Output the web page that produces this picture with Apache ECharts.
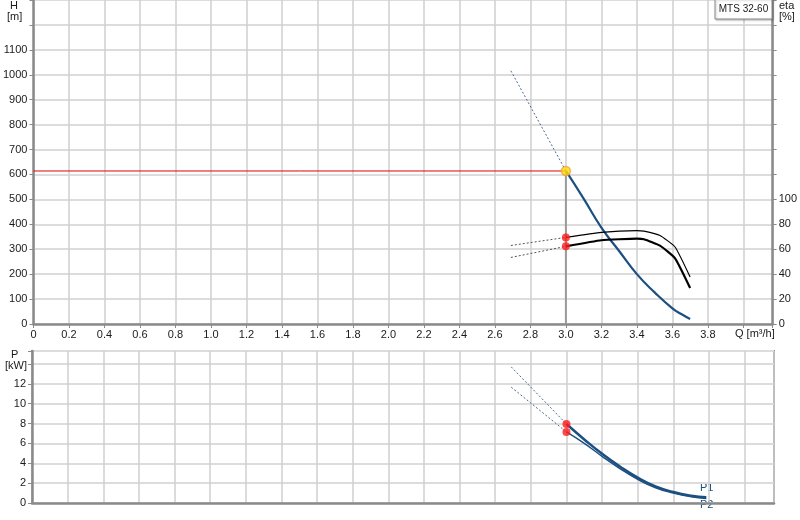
<!DOCTYPE html>
<html>
<head>
<meta charset="utf-8">
<script src="https://cdn.jsdelivr.net/npm/echarts@6/dist/echarts.min.js"></script>
<style>
  html, body { margin: 0; padding: 0; background: #fff; }
  #main { width: 800px; height: 520px; }
</style>
</head>
<body>
<div id="main"></div>
<script>
// 工作点
const dutyQ = 3.0;
const dutyH = 614;

// 扬程曲线 H(Q)
const qH = [3.0, 3.1, 3.2, 3.3, 3.4, 3.5, 3.6, 3.65, 3.7];
const headH = [614, 503, 387, 293, 200, 127, 63, 40, 20];
const headExtQ = [2.69, 3.0];
const headExtH = [1016, 614];

// 效率曲线 eta(Q)
const qEta = [3.0, 3.2, 3.4, 3.44, 3.53, 3.615, 3.7];
const eta1 = [69.5, 73.6, 75, 74.5, 71, 61.8, 37.7];
const eta2 = [62.3, 67.2, 68.5, 68, 62.9, 52.7, 28.9];
const etaExtQ = [2.69, 3.0];
const eta1Ext = [63, 69.5];
const eta2Ext = [53.4, 62.3];

// 功率曲线 P(Q)
const qP = [3.0, 3.1, 3.2, 3.3, 3.4, 3.5, 3.6, 3.7, 3.785];
const p1 = [7.95, 6.4, 4.95, 3.67, 2.55, 1.67, 1.1, 0.73, 0.57];
const p2 = [7.15, 6.0, 4.7, 3.47, 2.38, 1.53, 1.0, 0.63, 0.45];
const pExtQ = [2.69, 3.0];
const p1Ext = [13.7, 7.95];
const p2Ext = [11.66, 7.15];

const zip = (xs, ys) => xs.map((x, i) => [x, ys[i]]);

const chart = echarts.init(document.getElementById('main'));

const FONT = 'Liberation Sans';
const axisGray = '#8a8a8a';
const gridGray = '#dcdcdc';
const curveBlue = '#1c4f82';

const xFmt = function (v) {
    const r = Math.round(v * 10) / 10;
    if (Math.abs(v - r) > 1e-6 || r > 3.85) return '';
    return r === 0 ? '0' : r.toFixed(1);
};

const option = {
    animation: false,
    grid: [
        { left: 32, right: 26, top: 0, bottom: 196 },
        { left: 32, right: 26, top: 351, bottom: 17, show: true, borderColor: axisGray, borderWidth: 2 }
    ],
    xAxis: [
        {
            gridIndex: 0, type: 'value', min: 0, max: 4.165, interval: 0.2,
            axisLine: { lineStyle: { color: axisGray, width: 2.5 } },
            axisTick: { show: true, length: 4, lineStyle: { color: axisGray } },
            axisLabel: { formatter: xFmt, color: '#1a1a1a', fontFamily: FONT, fontSize: 11, margin: 5 },
            splitLine: { lineStyle: { color: '#cfcfcf', width: 1.5 } }
        },
        {
            gridIndex: 1, type: 'value', min: 0, max: 4.165, interval: 0.2,
            axisLine: { lineStyle: { color: axisGray, width: 2.5 } },
            axisTick: { show: false },
            axisLabel: { show: false },
            splitLine: { lineStyle: { color: '#cfcfcf', width: 1.5 } }
        }
    ],
    yAxis: [
        {
            gridIndex: 0, type: 'value', min: 0, max: 1300, interval: 100,
            axisLine: { show: true, lineStyle: { color: axisGray, width: 2.5 } },
            axisTick: { show: true, length: 4, lineStyle: { color: axisGray } },
            axisLabel: {
                formatter: v => (v <= 1100 ? String(v) : ''),
                color: '#1a1a1a', fontFamily: FONT, fontSize: 11, margin: 6
            },
            splitLine: { lineStyle: { color: gridGray, width: 2 } }
        },
        {
            gridIndex: 0, type: 'value', position: 'right', min: 0, max: 260, interval: 20,
            axisLine: { show: true, lineStyle: { color: axisGray, width: 2.5 } },
            axisTick: { show: true, length: 4, lineStyle: { color: axisGray } },
            axisLabel: {
                formatter: v => (v <= 100 ? String(v) : ''),
                color: '#1a1a1a', fontFamily: FONT, fontSize: 11, margin: 6
            },
            splitLine: { show: false }
        },
        {
            gridIndex: 1, type: 'value', min: 0, max: 15.3, interval: 2,
            axisLine: { show: true, lineStyle: { color: axisGray, width: 2.5 } },
            axisTick: { show: true, length: 4, lineStyle: { color: axisGray } },
            axisLabel: {
                formatter: v => (v <= 12 && v % 2 === 0 ? String(v) : ''),
                color: '#1a1a1a', fontFamily: FONT, fontSize: 11, margin: 6
            },
            splitLine: { lineStyle: { color: gridGray, width: 2 } }
        }
    ],
    graphic: [
        { type: 'text', left: 10, top: 0, style: { text: 'H', font: '11px ' + FONT, fill: '#1a1a1a' } },
        { type: 'text', left: 7, top: 11, style: { text: '[m]', font: '11px ' + FONT, fill: '#1a1a1a' } },
        { type: 'text', left: 779, top: 0, style: { text: 'eta', font: '11px ' + FONT, fill: '#1a1a1a' } },
        { type: 'text', left: 779, top: 11, style: { text: '[%]', font: '11px ' + FONT, fill: '#1a1a1a' } },
        { type: 'text', left: 11, top: 349, style: { text: 'P', font: '11px ' + FONT, fill: '#1a1a1a' } },
        { type: 'text', left: 5, top: 360, style: { text: '[kW]', font: '11px ' + FONT, fill: '#1a1a1a' } },
        { type: 'text', left: 735, top: 328, style: { text: 'Q [m³/h]', font: '11px ' + FONT, fill: '#1a1a1a' } },
        { type: 'text', left: 700, top: 482, style: { text: 'P1', font: '11px ' + FONT, fill: curveBlue } },
        { type: 'text', left: 700, top: 499, style: { text: 'P2', font: '11px ' + FONT, fill: curveBlue } },
        {
            type: 'rect', x: 715, y: -1, z: 100,
            shape: { x: 0, y: 0, width: 57, height: 20 },
            style: { fill: '#fff', stroke: '#8a8a8a', lineWidth: 1, shadowBlur: 2, shadowColor: 'rgba(0,0,0,0.25)', shadowOffsetX: 1, shadowOffsetY: 1 }
        },
        {
            type: 'text', x: 743.5, y: 9.5, z: 101,
            style: { text: 'MTS 32-60', font: '10px ' + FONT, fill: '#1a1a1a', align: 'center', verticalAlign: 'middle' }
        }
    ],
    series: [
        // 工作点参考线
        {
            type: 'line', xAxisIndex: 0, yAxisIndex: 0, symbol: 'none', silent: true,
            data: [[0, dutyH], [dutyQ, dutyH]],
            lineStyle: { color: '#e00000', width: 1 }, z: 3
        },
        {
            type: 'line', xAxisIndex: 0, yAxisIndex: 0, symbol: 'none', silent: true,
            data: [[dutyQ, 0], [dutyQ, dutyH]],
            lineStyle: { color: '#9a9a9a', width: 2 }, z: 3
        },
        // 扬程
        {
            type: 'line', xAxisIndex: 0, yAxisIndex: 0, symbol: 'none',
            data: zip(headExtQ, headExtH),
            lineStyle: { color: '#4a6a90', width: 1, type: [2, 2] }
        },
        {
            type: 'line', xAxisIndex: 0, yAxisIndex: 0, symbol: 'none', smooth: true,
            data: zip(qH, headH),
            lineStyle: { color: curveBlue, width: 2.2 }, z: 4
        },
        // 效率
        {
            type: 'line', xAxisIndex: 0, yAxisIndex: 1, symbol: 'none',
            data: zip(etaExtQ, eta1Ext),
            lineStyle: { color: '#555', width: 1, type: [2, 2] }
        },
        {
            type: 'line', xAxisIndex: 0, yAxisIndex: 1, symbol: 'none',
            data: zip(etaExtQ, eta2Ext),
            lineStyle: { color: '#555', width: 1, type: [2, 2] }
        },
        {
            type: 'line', xAxisIndex: 0, yAxisIndex: 1, symbol: 'none', smooth: 0.15,
            data: zip(qEta, eta1),
            lineStyle: { color: '#000', width: 1.2 }, z: 4
        },
        {
            type: 'line', xAxisIndex: 0, yAxisIndex: 1, symbol: 'none', smooth: 0.15,
            data: zip(qEta, eta2),
            lineStyle: { color: '#000', width: 2.2 }, z: 4
        },
        {
            type: 'scatter', xAxisIndex: 0, yAxisIndex: 1, symbolSize: 8,
            data: [[qEta[0], eta1[0]], [qEta[0], eta2[0]]],
            itemStyle: { color: '#ff1a1a' }, z: 6
        },
        {
            type: 'scatter', xAxisIndex: 0, yAxisIndex: 0, symbolSize: 9,
            data: [[dutyQ, dutyH]],
            itemStyle: { color: '#ffe400', borderColor: '#f5a040', borderWidth: 1.5 }, z: 6
        },
        // 功率
        {
            type: 'line', xAxisIndex: 1, yAxisIndex: 2, symbol: 'none',
            data: zip(pExtQ, p1Ext),
            lineStyle: { color: '#4a6a90', width: 1, type: [2, 2] }
        },
        {
            type: 'line', xAxisIndex: 1, yAxisIndex: 2, symbol: 'none',
            data: zip(pExtQ, p2Ext),
            lineStyle: { color: '#4a6a90', width: 1, type: [2, 2] }
        },
        {
            type: 'line', xAxisIndex: 1, yAxisIndex: 2, symbol: 'none', smooth: true,
            data: zip(qP, p1),
            lineStyle: { color: curveBlue, width: 2.5 }, z: 4
        },
        {
            type: 'line', xAxisIndex: 1, yAxisIndex: 2, symbol: 'none', smooth: true,
            data: zip(qP, p2),
            lineStyle: { color: curveBlue, width: 1.5 }, z: 4
        },
        {
            type: 'scatter', xAxisIndex: 1, yAxisIndex: 2, symbolSize: 8,
            data: [[qP[0], p1[0]], [qP[0], p2[0]]],
            itemStyle: { color: '#ff1a1a' }, z: 6
        }
    ]
};

chart.setOption(option);

window.addEventListener('resize', function () {
    chart.resize();
});
</script>
</body>
</html>
